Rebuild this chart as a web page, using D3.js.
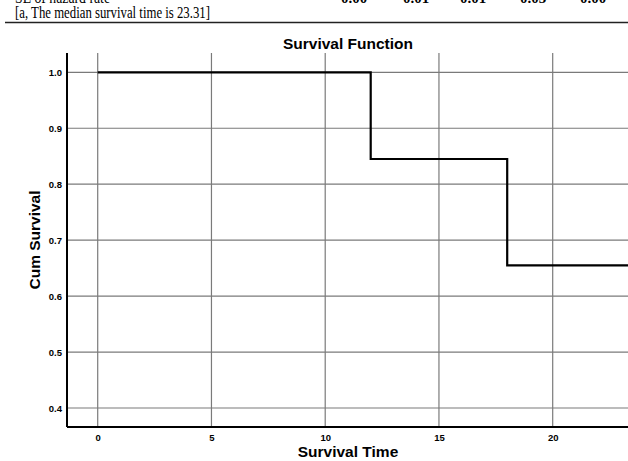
<!DOCTYPE html>
<html>
<head>
<meta charset="utf-8">
<script src="https://cdn.jsdelivr.net/npm/d3@7"></script>
<style>
  body { margin: 0; background: #fff; }
  svg { display: block; }
</style>
</head>
<body>
<div id="chart"></div>
<script>
var width = 628;
var height = 461;

// step points of the survival curve (time, cum survival)
var times = [0, 12, 12, 18, 18, 23.31];
var survival = [1.0, 1.0, 0.845, 0.845, 0.655, 0.655];

var xTicks = [0, 5, 10, 15, 20];
var yTicks = [0.4, 0.5, 0.6, 0.7, 0.8, 0.9, 1.0];

// table row cut off at the top of the picture
var seValues = ["0.00", "0.01", "0.01", "0.03", "0.00"];
var seX = [354, 416, 473, 533, 593];

// plot box (note: "top" is taken by window.top)
var plotLeft = 67, plotRight = 628, plotTop = 53, plotBottom = 427;

var serif = "Liberation Serif, Times New Roman, serif";
var sans = "Liberation Sans, Arial, sans-serif";

var svg = d3.select("#chart").append("svg")
  .attr("width", width)
  .attr("height", height);

// bits of the table above the chart
svg.append("text")
  .attr("x", 15).attr("y", 3)
  .attr("textLength", 95)
  .attr("lengthAdjust", "spacingAndGlyphs")
  .style("font-family", serif)
  .style("font-size", "16px")
  .text("SE of hazard rate");

svg.selectAll(".se")
  .data(seValues)
  .enter().append("text")
    .attr("class", "se")
    .attr("x", function(d, i) { return seX[i]; })
    .attr("y", 2.5)
    .attr("text-anchor", "middle")
    .style("font-family", serif)
    .style("font-size", "15px")
    .style("font-weight", "bold")
    .text(function(d) { return d; });

svg.append("text")
  .attr("x", 15).attr("y", 18)
  .attr("textLength", 195)
  .attr("lengthAdjust", "spacingAndGlyphs")
  .style("font-family", serif)
  .style("font-size", "17px")
  .text("[a, The median survival time is 23.31]");

svg.append("line")
  .attr("x1", 5).attr("x2", 628)
  .attr("y1", 22.5).attr("y2", 22.5)
  .attr("stroke", "#222")
  .attr("stroke-width", 1.6);

var x = d3.scaleLinear().domain([-1.35, 23.31]).range([plotLeft, plotRight]);
var y = d3.scaleLinear().domain([0.366, 1.0345]).range([plotBottom, plotTop]);

// grid lines
svg.selectAll(".vgrid")
  .data(xTicks)
  .enter().append("line")
    .attr("class", "vgrid")
    .attr("x1", function(d) { return x(d); })
    .attr("x2", function(d) { return x(d); })
    .attr("y1", plotTop).attr("y2", plotBottom)
    .attr("stroke", "#7a7a7a")
    .attr("stroke-width", 1.2);

svg.selectAll(".hgrid")
  .data(yTicks)
  .enter().append("line")
    .attr("class", "hgrid")
    .attr("x1", plotLeft).attr("x2", plotRight)
    .attr("y1", function(d) { return y(d); })
    .attr("y2", function(d) { return y(d); })
    .attr("stroke", "#7a7a7a")
    .attr("stroke-width", 1.2);

// axes: labels from d3.axis, no tick marks
var xAxis = svg.append("g")
  .attr("transform", "translate(0," + plotBottom + ")")
  .call(d3.axisBottom(x).tickValues(xTicks).tickSize(0).tickPadding(7).tickFormat(d3.format("d")));
xAxis.select(".domain").remove();

var yAxis = svg.append("g")
  .attr("transform", "translate(" + plotLeft + ",0)")
  .call(d3.axisLeft(y).tickValues(yTicks).tickSize(0).tickPadding(5).tickFormat(d3.format(".1f")));
yAxis.select(".domain").remove();

svg.selectAll(".tick text")
  .style("font-family", sans)
  .style("font-size", "9.5px")
  .style("font-weight", "bold")
  .attr("fill", "#000");

svg.append("line")
  .attr("x1", plotLeft).attr("x2", plotRight)
  .attr("y1", plotBottom).attr("y2", plotBottom)
  .attr("stroke", "#000").attr("stroke-width", 2);

svg.append("line")
  .attr("x1", plotLeft).attr("x2", plotLeft)
  .attr("y1", plotTop).attr("y2", plotBottom)
  .attr("stroke", "#000").attr("stroke-width", 2);

// survival step curve
var line = d3.line()
  .x(function(d) { return x(d[0]); })
  .y(function(d) { return y(d[1]); });

svg.append("path")
  .datum(d3.zip(times, survival))
  .attr("d", line)
  .attr("fill", "none")
  .attr("stroke", "#000")
  .attr("stroke-width", 2.2);

// titles
svg.append("text")
  .attr("x", 348).attr("y", 48.5)
  .attr("text-anchor", "middle")
  .style("font-family", sans)
  .style("font-size", "15.5px")
  .style("font-weight", "bold")
  .text("Survival Function");

svg.append("text")
  .attr("x", 348).attr("y", 457)
  .attr("text-anchor", "middle")
  .style("font-family", sans)
  .style("font-size", "15.5px")
  .style("font-weight", "bold")
  .text("Survival Time");

svg.append("text")
  .attr("transform", "translate(40,240) rotate(-90)")
  .attr("text-anchor", "middle")
  .style("font-family", sans)
  .style("font-size", "15.5px")
  .style("font-weight", "bold")
  .text("Cum Survival");
</script>
</body>
</html>
